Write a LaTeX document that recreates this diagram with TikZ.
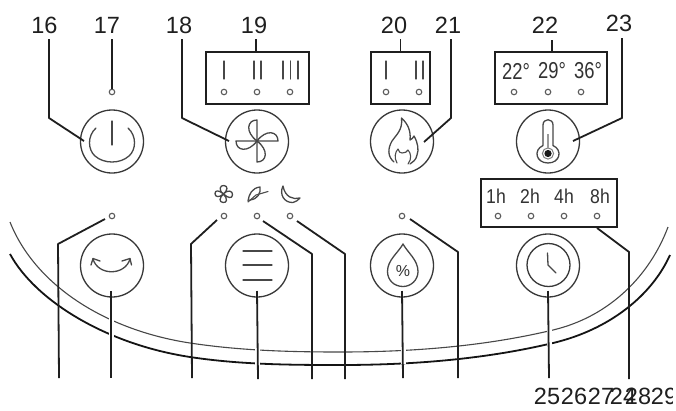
\documentclass[tikz,border=0pt]{standalone}
\usepackage{fontspec}
\setmainfont{Liberation Sans}
\newcommand{\tempsq}[1]{\scalebox{0.8}[1]{#1}}
\newcommand{\hoursq}[1]{\scalebox{0.88}[1]{#1}}
\begin{document}
\begin{tikzpicture}[x=1pt,y=-1pt,
 lead/.style={draw=black!88,line width=1.8pt,line join=round},
 halo/.style={draw=white,line width=5pt},
 ring/.style={draw=black!78,line width=1.3pt},
 dotm/.style={circle,draw=black!65,line width=1.1pt,minimum size=5.5pt,inner sep=0pt},
 panel/.style={draw=black!88,line width=1.8pt,inner sep=0pt},
 gl/.style={draw=black!72,line width=1.3pt,line cap=round,line join=round},
 glt/.style={draw=black!70,line width=1.1pt,line cap=round,line join=round},
 num/.style={font=\fontsize{23.5}{24}\selectfont,text=black!88,inner sep=0pt},
 temp/.style={font=\fontsize{23}{23}\selectfont,text=black!80,inner sep=0pt},
 small/.style={font=\fontsize{20}{20}\selectfont,text=black!80,inner sep=0pt}]
\useasboundingbox (0,0) rectangle (676,410);
\fill[white] (0,0) rectangle (676,410);
% arcs
\draw[black!72,line width=1.1pt] (10,222) .. controls (35,285) and (105,330) .. (190,343) .. controls (240,350.6) and (290,352) .. (340,352) .. controls (420,352) and (490,345) .. (553,330) .. controls (610,316.5) and (650,275) .. (668,227);
\draw[black!92,line width=1.8pt] (10,254) .. controls (35,300) and (105,344) .. (190,357) .. controls (240,364.6) and (290,365) .. (340,365) .. controls (420,365) and (490,358) .. (553,343) .. controls (610,329.5) and (652,295) .. (670,255);
% halos of the four central leaders
\draw[halo] (111,318) -- (111,341);
\draw[halo] (257,346) -- (257,365);
\draw[halo] (403,349) -- (403,364);
\draw[halo] (549,329) -- (549,346);
% dots
\foreach \n/\x/\y in {d17/112/92,d19a/224/92,d19b/257/92,d19c/290/92,d20a/386/92,d20b/419/92,d22a/514/92,d22b/548/92,d22c/581/92,
 dA/112/216,dB/224/216,dC/257/216,dD/290/216,dE/402/216,dT1/498/216,dT2/531/216,dT3/564/216,dT4/597/216}
 \node[dotm] (\n) at (\x,\y) {};
% panels
\node[panel,minimum width=103pt,minimum height=52pt] (p19) at (257.5,78) {};
\node[panel,minimum width=59pt,minimum height=52pt] (p20) at (400.5,78) {};
\node[panel,minimum width=112pt,minimum height=52pt] (p22) at (551,78) {};
\node[panel,minimum width=136pt,minimum height=48pt] (pT) at (549,203) {};
% buttons
\foreach \n/\x/\y in {b16/112/141.5,b18/257/141.5,b21/402/141.5,b23/548/141.5,bA/112/265.5,bB/257/265.5,bC/402/265.5,bD/548/265.5}
 \node[ring,circle,minimum size=63pt,inner sep=0pt] (\n) at (\x,\y) {};
% power glyph
\draw[gl] (96,128) .. controls (87,136) and (88,150) .. (95,156) .. controls (104,164) and (120,164) .. (129,156) .. controls (136,150) and (137,136) .. (128,128);
\draw[gl] (112,121) -- (112,145);
% fan
\draw[gl] (257,141) -- (257,120) .. controls (247,120) and (245,132) .. (257,141);
\draw[gl] (257,141) -- (278,141) .. controls (278,131) and (266,129) .. (257,141);
\draw[gl] (257,141) -- (257,162) .. controls (267,162) and (269,150) .. (257,141);
\draw[gl] (257,141) -- (236,141) .. controls (236,151) and (248,153) .. (257,141);
% flame
\draw[gl] (394,162) .. controls (387,156) and (388,148) .. (392,141) .. controls (396,135) and (403,130) .. (401.5,118) .. controls (408,124) and (411,131) .. (410,140) .. controls (412,139) and (413,138) .. (414,136) .. controls (418,143) and (419,150) .. (417,155) .. controls (416,160) and (413,162) .. (410,164);
\draw[glt] (397,163) .. controls (394,158) and (395,152) .. (398,149) .. controls (399,152) and (400,153) .. (402,153) .. controls (405,153) and (407,152) .. (408,150) .. controls (411,153) and (412,159) .. (408,164);
% thermometer
\draw[gl] (543,145.5) -- (543,125) .. controls (543,118) and (553,118) .. (553,125) -- (553,145.5) .. controls (563,150) and (560,163) .. (548,163) .. controls (536,163) and (533,150) .. (543,145.5);
\draw[draw=black!50,line width=1pt] (548,153.5) circle (5.6);
\fill[black!90] (548,153.5) circle (3.6);
\draw[draw=black!40,line width=1.2pt] (548,134) -- (548,148);
% arrows glyph
\draw[gl] (93,259) .. controls (98,276) and (125,276) .. (130,259);
\draw[gl] (91,265) -- (93,258.5) -- (100,261);
\draw[gl] (122,261) -- (130,258.5) -- (131.5,265);
% menu
\foreach \y in {251,265,280} \draw[gl] (243,\y) -- (272,\y);
% drop
\draw[gl] (403,244) .. controls (408,253) and (418,260) .. (418,271.5) .. controls (418,280) and (411,286.5) .. (403,286.5) .. controls (394,286.5) and (387.5,280) .. (387.5,271.5) .. controls (387.5,260) and (398,253) .. (403,244);
\node[font=\fontsize{16}{16}\selectfont,text=black!80,inner sep=0pt] (pct) at (403,270.5) {\%};
% clock
\node[ring,circle,minimum size=43pt,inner sep=0pt] (clk) at (548.5,265) {};
\draw[gl] (547.5,253) -- (548,265) -- (556,273);
% mode glyphs
\draw[gl] (223.5,194) .. controls (218,190) and (220,185) .. (224,185.5) .. controls (228,186) and (228,190) .. (223.5,194)
 .. controls (228,189) and (233,191) .. (232.5,195) .. controls (232,199) and (228,198) .. (223.5,194)
 .. controls (228,199) and (227,203) .. (223,202.5) .. controls (219,202) and (219,198) .. (223.5,194)
 .. controls (219,198) and (215,197) .. (215,193.5) .. controls (215,190) and (219,190) .. (223.5,194);
\draw[gl] (248,201) .. controls (249,194) and (252,188) .. (260,187) .. controls (261,193) and (258,199) .. (250,200);
\draw[glt] (248,202) -- (256,195) -- (268,191.5);
\draw[gl] (283,186) .. controls (279,194) and (284,203) .. (293,202.5) .. controls (296,202) and (298,200) .. (300,198) .. controls (293,200) and (285,197) .. (283,186);
% bars
\foreach \x in {224,254,261,283,290.5,298,386,416,423} \draw[gl] (\x,61) -- (\x,79);
% panel texts
\node[temp] (t22) at (516,71) {\tempsq{22°}};
\node[temp] (t29) at (552,71) {\tempsq{29°}};
\node[temp] (t36) at (588,71) {\tempsq{36°}};
\node[small] (h1) at (496,196) {\hoursq{1h}};
\node[small] (h2) at (530,196) {\hoursq{2h}};
\node[small] (h4) at (564,196) {\hoursq{4h}};
\node[small] (h8) at (600,196) {\hoursq{8h}};
% numbers
\node[num] (n16) at (44.5,25.5) {16};
\node[num] (n17) at (107,25.5) {17};
\node[num] (n18) at (179,25.5) {18};
\node[num] (n19) at (254,25.5) {19};
\node[num] (n20) at (394,25.5) {20};
\node[num] (n21) at (448,25.5) {21};
\node[num] (n22) at (545,25.5) {22};
\node[num] (n23) at (619,23.5) {23};
\node[num] (n25) at (547,396) {25};
\node[num] (n26) at (574,396) {26};
\node[num] (n27) at (601,396) {27};
\node[num] (n24) at (623,396) {24};
\node[num] (n28) at (638,396) {28};
\begin{scope}
\clip (640,380) rectangle (672,410);
\node[num] (n29) at (664,396) {29};
\end{scope}
% leaders
\coordinate (c16) at (49,39);
\draw[lead] (c16) -- (49,118) -- (84,141);
\draw[lead] (112,39) -- (d17);
\draw[lead] (182,39) -- (182,118) -- (229,141);
\draw[lead] (256,39) -- (256,52);
\draw[lead] (400.5,39) -- (p20.north);
\draw[lead] (451,39) -- (451,118) -- (424,142);
\draw[lead] (552,40) -- (552,52);
\draw[lead] (622,38) -- (622,118) -- (573,141);
\draw[lead] (105,219) -- (58,244) -- (59,378);
\draw[lead] (111,291) -- (111,378);
\draw[lead] (217,220) -- (191,244) -- (192,378);
\draw[lead] (257,291) -- (258,379);
\draw[lead] (263,221) -- (312,254) -- (312,379);
\draw[lead] (297,221) -- (345,254) -- (345,379);
\draw[lead] (410,219) -- (458,252) -- (458,378);
\draw[lead] (402,291) -- (403,378);
\draw[lead] (548,291) -- (549,378);
\draw[lead] (597,228) -- (629,252) -- (629,379);
\end{tikzpicture}
\end{document}
